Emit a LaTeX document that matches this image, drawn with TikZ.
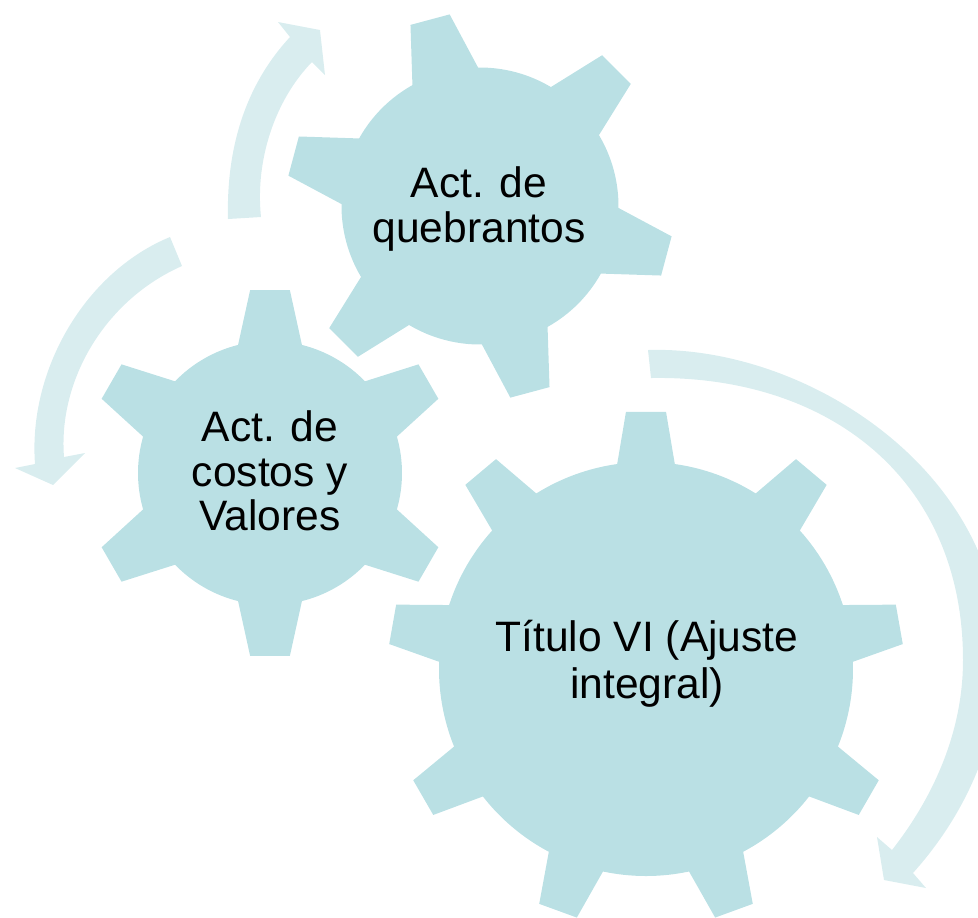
\documentclass[tikz,border=0pt]{standalone}
\usepackage{fontspec}
\setmainfont{Liberation Sans}
\usepackage{xcolor}
\definecolor{gearcol}{HTML}{BAE0E4}
\definecolor{arrowcol}{HTML}{D9EDEF}
\tikzset{
  gearfill/.style={fill=gearcol},
  arrowfill/.style={fill=arrowcol},
  geartext/.style={align=center,text=black,inner sep=0pt,font=\fontsize{12.1}{12.6}\selectfont}
}
% centre, inner radius, outer radius, base half angle, tip half angle, first angle, teeth
\newcommand{\gearat}[7]{
  \fill[gearfill,shift={#1}] (#6-#4:#2)
    \foreach \k [evaluate=\k as \a using #6+\k*360/#7] in {0,...,\numexpr#7-1\relax}{
      -- ({\a-#5}:#3) -- ({\a+#5}:#3) -- ({\a+#4}:#2)
      arc[start angle={\a+#4},end angle={\a+360/#7-#4},radius=#2]
    } -- cycle;
}
\begin{document}
\begin{tikzpicture}[x=0.01cm,y=-0.01cm]
  \clip (0,0) rectangle (978,917);

  \gearat{(270,473)}{132}{184}{14}{6.2}{-90}{6}
  \gearat{(480,206)}{138.5}{194}{14.2}{6}{-105}{6}
  \gearat{(646,669)}{207}{258}{8}{4.45}{-90}{9}

  \node[geartext] (quebrantos) at (479,209) {Act. de\\quebrantos};
  \node[geartext] (costos) at (270,471) {Act. de\\costos y\\Valores};
  \node[geartext,font=\fontsize{12.1}{13.4}\selectfont] (titulo) at (647,664) {Título VI (Ajuste\\integral)};

  \fill[arrowfill] (228,219) .. controls (226,140) and (250,80) .. (290,37)
    -- (278,22) -- (320,30) -- (325,75) -- (312,62)
    .. controls (275,100) and (255,160) .. (261,217) -- cycle;
  \fill[arrowfill] (170,237) .. controls (85,272) and (28,370) .. (35,464)
    -- (15,468) -- (53,485) -- (85,453) -- (64,457)
    .. controls (58,380) and (105,300) .. (182,266) -- cycle;
  \fill[arrowfill] (648,350) .. controls (805,345) and (1000,470) .. (1000,655)
    .. controls (1000,740) and (965,815) .. (913,873)
    -- (926,888) -- (884,880) -- (877,837) -- (892,850)
    .. controls (935,795) and (963,730) .. (963,660)
    .. controls (963,480) and (830,375) .. (651,378) -- cycle;
\end{tikzpicture}
\end{document}
